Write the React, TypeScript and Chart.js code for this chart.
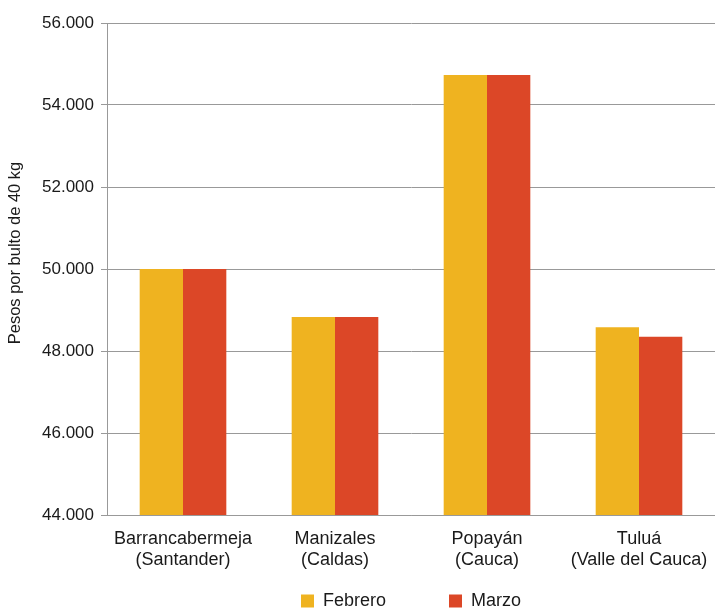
import React, { useEffect, useRef } from "react";
import { Chart, registerables } from "chart.js";

Chart.register(...registerables);

const categories: string[][] = [
  ["Barrancabermeja", "(Santander)"],
  ["Manizales", "(Caldas)"],
  ["Popayán", "(Cauca)"],
  ["Tuluá", "(Valle del Cauca)"],
];
const febrero: number[] = [50000, 48830, 54730, 48580];
const marzo: number[] = [50000, 48830, 54730, 48350];
const seriesNames: string[] = ["Febrero", "Marzo"];
const yMin = 44000;
const yMax = 56000;
const yStep = 2000;
const yTitle = "Pesos por bulto de 40 kg";

const FONT = "'Liberation Sans', Arial, Helvetica, sans-serif";
const LEGEND_PAD = 63;
const LEGEND_FONT = 18;
const LEGEND_CENTER_Y = 601;
const TITLE_SHIFT_UP = 16;

function fmt(v: number): string {
  const s = Math.round(v).toString();
  return s.replace(/\B(?=(\d{3})+(?!\d))/g, ".");
}

const legendPlacer = {
  id: "legendPlacer",
  afterInit(chart: any) {
    const lg = chart.legend;
    if (lg && !lg.__patched) {
      const orig = lg.fit;
      lg.fit = function (this: any) {
        orig.call(this);
        this.height = 39;
      };
      lg.__patched = true;
    }
  },
  afterLayout(chart: any) {
    const lg = chart.legend;
    if (lg) {
      const top = LEGEND_CENTER_Y - LEGEND_PAD - LEGEND_FONT / 2;
      lg.top = top;
      lg.bottom = chart.height;
      lg.height = chart.height - top;
    }
    const ys = chart.scales.y;
    if (ys && !ys.__titlePatched) {
      const origTitle = ys.drawTitle;
      ys.drawTitle = function (this: any, ...args: any[]) {
        const t = this.top;
        this.top = t - 2 * TITLE_SHIFT_UP;
        try {
          origTitle.apply(this, args);
        } finally {
          this.top = t;
        }
      };
      ys.__titlePatched = true;
    }
  },
};

export default function App() {
  const ref = useRef<HTMLCanvasElement | null>(null);
  useEffect(() => {
    document.body.style.margin = "0";
    document.body.style.overflow = "hidden";
    if (!ref.current) return;
    const chart = new Chart(ref.current, {
      type: "bar",
      data: {
        labels: categories,
        datasets: [
          {
            label: seriesNames[0],
            data: febrero,
            backgroundColor: "#EFB320",
            borderWidth: 0,
          },
          {
            label: seriesNames[1],
            data: marzo,
            backgroundColor: "#DC4727",
            borderWidth: 0,
          },
        ],
      },
      plugins: [legendPlacer],
      options: {
        animation: false,
        responsive: false,
        maintainAspectRatio: false,
        layout: { padding: { top: 23, right: -2, left: 0, bottom: 0 } },
        datasets: {
          bar: { barPercentage: 1, categoryPercentage: 0.57 },
        },
        plugins: {
          tooltip: { enabled: false },
          legend: {
            position: "bottom",
            fullSize: false,
            labels: {
              boxWidth: 13,
              boxHeight: 13,
              padding: LEGEND_PAD,
              color: "#1a1a1a",
              font: { family: FONT, size: LEGEND_FONT },
            },
          },
        },
        scales: {
          x: {
            grid: { display: false, drawTicks: false },
            border: { display: true, color: "#999999", width: 1 },
            ticks: {
              padding: 13,
              color: "#1a1a1a",
              font: { family: FONT, size: 18 },
              maxRotation: 0,
              autoSkip: false,
            },
            afterFit: (s: any) => {
              s.height = 56;
              s.paddingRight = 0;
              s.paddingLeft = 0;
            },
          },
          y: {
            min: yMin,
            max: yMax,
            ticks: {
              stepSize: yStep,
              padding: 7,
              color: "#1a1a1a",
              font: { family: FONT, size: 17 },
              callback: (v: any) => fmt(Number(v)),
            },
            grid: {
              color: "#999999",
              lineWidth: 1,
              tickLength: 6,
              drawTicks: true,
            },
            border: { display: true, color: "#999999", width: 1 },
            title: {
              display: true,
              text: yTitle,
              color: "#1a1a1a",
              font: { family: FONT, size: 16.5 },
              padding: { top: 6, bottom: 0 },
            },
            afterFit: (s: any) => {
              s.width = 107;
            },
          },
        },
      },
    });
    return () => chart.destroy();
  }, []);
  return (
    <div style={{ width: 715, height: 610 }}>
      <canvas ref={ref} width={715} height={610} style={{ display: "block" }} />
    </div>
  );
}
